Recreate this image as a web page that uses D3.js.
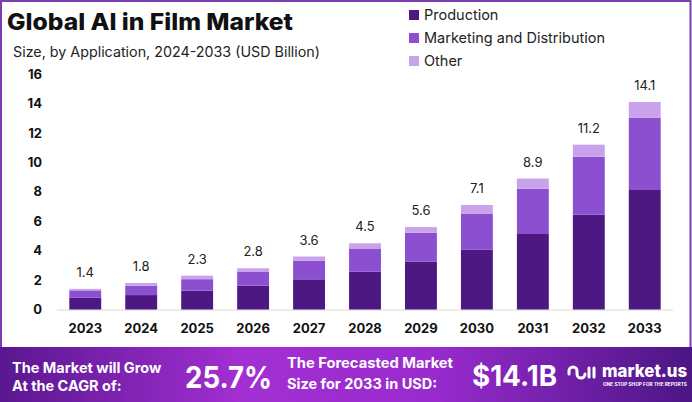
<!DOCTYPE html>
<html>
<head>
<meta charset="utf-8">
<script src="https://cdn.jsdelivr.net/npm/d3@7"></script>
<style>
  body { margin: 0; background: #fff; }
  svg { display: block; font-family: "Inter", "Open Sans", sans-serif; }
</style>
</head>
<body>
<svg id="chart" width="692" height="402"></svg>
<script>
var years = ["2023", "2024", "2025", "2026", "2027", "2028", "2029", "2030", "2031", "2032", "2033"];
var production = [0.80, 0.98, 1.28, 1.62, 2.05, 2.57, 3.26, 4.08, 5.13, 6.44, 8.12];
var marketing = [0.50, 0.64, 0.78, 0.93, 1.25, 1.54, 1.95, 2.44, 3.08, 3.94, 4.90];
var other = [0.10, 0.18, 0.24, 0.25, 0.30, 0.39, 0.39, 0.58, 0.69, 0.82, 1.08];
var totals = ["1.4", "1.8", "2.3", "2.8", "3.6", "4.5", "5.6", "7.1", "8.9", "11.2", "14.1"];
var seriesNames = ["Production", "Marketing and Distribution", "Other"];
var seriesColors = ["#4e1882", "#8c4fd0", "#c9a2ec"];
var yTicks = [0, 2, 4, 6, 8, 10, 12, 14, 16];

var svg = d3.select("#chart");

// table for the stack
var rows = years.map(function(y, i) {
  return { year: y, Production: production[i], "Marketing and Distribution": marketing[i], Other: other[i] };
});
var stacked = d3.stack().keys(seriesNames)(rows);

var x = d3.scaleBand().domain(years).range([57, 673]).paddingInner(0.43).paddingOuter(0.22);
var y = d3.scaleLinear().domain([0, 16]).range([309.5, 74]);

// frame
svg.append("path")
  .attr("d", "M1,347V1H690.5V347")
  .attr("fill", "none")
  .attr("stroke", "#7a3cb3")
  .attr("stroke-width", 2);

// title
svg.append("text").attr("x", 7).attr("y", 30)
  .attr("font-size", 23).attr("font-weight", 800).attr("fill", "#111")
  .attr("textLength", 286).attr("lengthAdjust", "spacingAndGlyphs")
  .text("Global AI in Film Market");
svg.append("text").attr("x", 13).attr("y", 57)
  .attr("font-size", 14).attr("fill", "#222")
  .attr("textLength", 307).attr("lengthAdjust", "spacingAndGlyphs")
  .text("Size, by Application, 2024-2033 (USD Billion)");

// legend
var legend = svg.append("g").selectAll("g").data(seriesNames).join("g")
  .attr("transform", function(d, i) { return "translate(409," + (15 + i * 23) + ")"; });
legend.append("rect").attr("x", 0).attr("y", -5).attr("width", 10).attr("height", 10)
  .attr("fill", function(d, i) { return seriesColors[i]; });
legend.append("text").attr("x", 15).attr("dy", "0.36em")
  .attr("font-size", 14.5).attr("fill", "#222")
  .text(function(d) { return d; });

// y axis
var yAxis = svg.append("g").attr("transform", "translate(42,0)")
  .call(d3.axisLeft(y).tickValues(yTicks).tickSize(0).tickPadding(0));
yAxis.select(".domain").remove();
yAxis.selectAll("text").attr("font-size", 13).attr("font-weight", 700).attr("fill", "#111")
  .attr("font-family", "Inter, sans-serif");

// baseline
svg.append("line").attr("x1", 57).attr("x2", 673).attr("y1", y(0) + 0.5).attr("y2", y(0) + 0.5)
  .attr("stroke", "#d8d8d8").attr("stroke-width", 1);

// bars
svg.append("g").selectAll("g").data(stacked).join("g")
  .attr("fill", function(d, i) { return seriesColors[i]; })
  .selectAll("rect").data(function(d) { return d; }).join("rect")
  .attr("x", function(d) { return x(d.data.year); })
  .attr("width", x.bandwidth())
  .attr("y", function(d) { return y(d[1]); })
  .attr("height", function(d) { return y(d[0]) - y(d[1]); });

// total labels
svg.append("g").selectAll("text").data(years).join("text")
  .attr("x", function(d) { return x(d) + x.bandwidth() / 2; })
  .attr("y", function(d, i) { return y(production[i] + marketing[i] + other[i]) - 12; })
  .attr("text-anchor", "middle").attr("font-size", 13).attr("fill", "#222")
  .text(function(d, i) { return totals[i]; });

// x axis
var xAxis = svg.append("g").attr("transform", "translate(0," + (y(0) + 14) + ")")
  .call(d3.axisBottom(x).tickSize(0).tickPadding(0));
xAxis.select(".domain").remove();
xAxis.selectAll("text").attr("font-size", 13).attr("font-weight", 700).attr("fill", "#111")
  .attr("font-family", "Inter, sans-serif");

// bottom banner
var defs = svg.append("defs");
var grad = defs.append("linearGradient").attr("id", "band").attr("x1", 0).attr("x2", 1);
grad.append("stop").attr("offset", "0%").attr("stop-color", "#5a1790");
grad.append("stop").attr("offset", "35%").attr("stop-color", "#a22fd2");
grad.append("stop").attr("offset", "62%").attr("stop-color", "#9a2bcf");
grad.append("stop").attr("offset", "100%").attr("stop-color", "#4b1684");
svg.append("rect").attr("x", 0).attr("y", 347).attr("width", 692).attr("height", 55).attr("fill", "url(#band)");

var white = function(sel) { return sel.attr("fill", "#fff").attr("font-weight", 700); };
white(svg.append("text").attr("x", 12).attr("y", 373).attr("font-size", 14.5)).text("The Market will Grow");
white(svg.append("text").attr("x", 12).attr("y", 391).attr("font-size", 14.5)).text("At the CAGR of:");
white(svg.append("text").attr("x", 185).attr("y", 388).attr("font-size", 30))
  .attr("textLength", 87).attr("lengthAdjust", "spacingAndGlyphs").text("25.7%");
white(svg.append("text").attr("x", 287).attr("y", 368).attr("font-size", 14.5))
  .attr("textLength", 166).attr("lengthAdjust", "spacingAndGlyphs").text("The Forecasted Market");
white(svg.append("text").attr("x", 287).attr("y", 389).attr("font-size", 14.5)).text("Size for 2033 in USD:");
white(svg.append("text").attr("x", 472).attr("y", 386).attr("font-size", 29))
  .attr("textLength", 85).attr("lengthAdjust", "spacingAndGlyphs").text("$14.1B");

// logo
var logo = svg.append("g").attr("transform", "translate(568,366)")
  .attr("fill", "none").attr("stroke", "#fff").attr("stroke-width", 3).attr("stroke-linecap", "round");
logo.append("path").attr("d", "M1,8 V5 a4,4 0 0 1 8,0 V8 a4,4 0 0 0 8,0");
logo.append("path").attr("d", "M21,2 V11");
logo.append("path").attr("d", "M26,2 V11");
white(svg.append("text").attr("x", 602).attr("y", 377).attr("font-size", 18)).attr("font-weight", 800)
  .attr("textLength", 85).attr("lengthAdjust", "spacingAndGlyphs").text("market.us");
svg.append("text").attr("x", 603).attr("y", 386).attr("font-size", 4.5).attr("fill", "#fff")
  .attr("font-weight", 700).attr("textLength", 84).attr("lengthAdjust", "spacingAndGlyphs")
  .text("ONE STOP SHOP FOR THE REPORTS");
</script>
</body>
</html>
